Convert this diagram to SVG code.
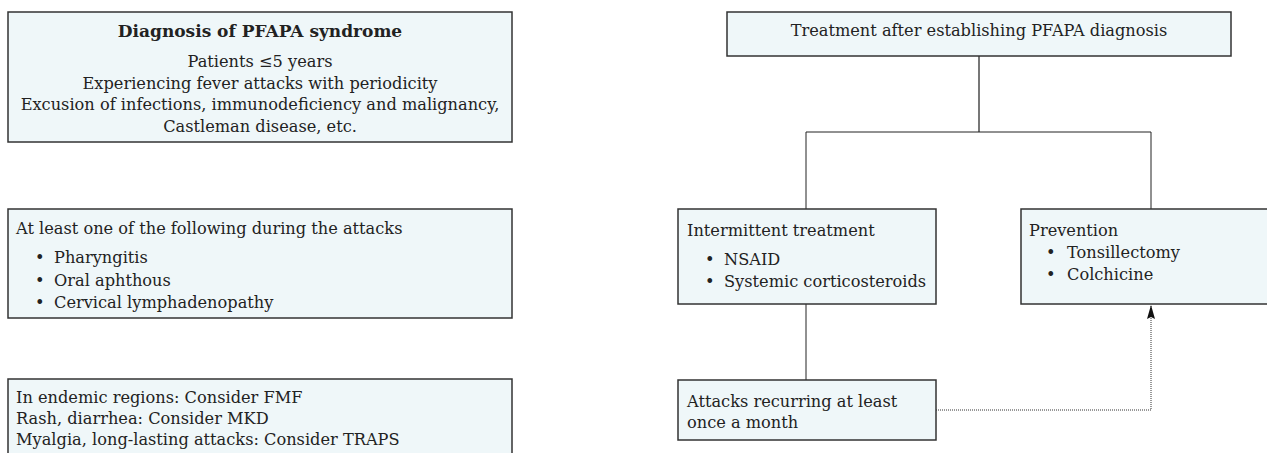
<svg xmlns="http://www.w3.org/2000/svg" width="1267" height="453" viewBox="0 0 1267 453">
<defs>
<style>
.box{fill:#eff7f9;stroke:#333;stroke-width:1.5}
text{font-family:"DejaVu Serif","Liberation Serif",serif;font-size:16.2px;fill:#222}
.b{font-weight:bold;font-size:17px}
.c{text-anchor:middle}
.ln{fill:none;stroke:#222;stroke-width:1}
</style>
<marker id="ah" viewBox="0 0 14 10" refX="14" refY="5" markerWidth="14" markerHeight="10" markerUnits="userSpaceOnUse" orient="auto">
<path d="M0,1 L14,5 L0,9 L2,5 Z" fill="#111"/>
</marker>
</defs>
<rect width="1267" height="453" fill="#fff"/>
<g id="connectors">
<line x1="979" y1="56" x2="979" y2="132" stroke="#777" stroke-width="2"/>
<polyline class="ln" points="806,209 806,132 1151,132 1151,209"/>
<line class="ln" x1="806" y1="304" x2="806" y2="380"/>
<polyline points="936,410 1151,410 1151,305" fill="none" stroke="#333" stroke-width="1" stroke-dasharray="1,1" marker-end="url(#ah)"/>
</g>
<g id="diagnosis">
<rect class="box" x="8" y="12" width="504" height="130"/>
<text class="b c" x="260" y="37">Diagnosis of PFAPA syndrome</text>
<text class="c" x="260" y="67">Patients ≤5 years</text>
<text class="c" x="260" y="89">Experiencing fever attacks with periodicity</text>
<text class="c" x="260" y="110">Excusion of infections, immunodeficiency and malignancy,</text>
<text class="c" x="260" y="132">Castleman disease, etc.</text>
</g>
<g id="criteria">
<rect class="box" x="8" y="209" width="504" height="109"/>
<text x="16" y="234">At least one of the following during the attacks</text>
<text x="35" y="263">•</text><text x="54" y="263">Pharyngitis</text>
<text x="35" y="286">•</text><text x="54" y="286">Oral aphthous</text>
<text x="35" y="308">•</text><text x="54" y="308">Cervical lymphadenopathy</text>
</g>
<g id="differential">
<rect class="box" x="8" y="379" width="504" height="90"/>
<text x="16" y="403">In endemic regions: Consider FMF</text>
<text x="16" y="424">Rash, diarrhea: Consider MKD</text>
<text x="16" y="445">Myalgia, long-lasting attacks: Consider TRAPS</text>
</g>
<g id="treatment">
<rect class="box" x="727" y="12" width="504" height="44"/>
<text class="c" x="979" y="36">Treatment after establishing PFAPA diagnosis</text>
</g>
<g id="intermittent">
<rect class="box" x="678" y="209" width="258" height="95"/>
<text x="687" y="236">Intermittent treatment</text>
<text x="705" y="265">•</text><text x="724" y="265">NSAID</text>
<text x="705" y="287">•</text><text x="724" y="287">Systemic corticosteroids</text>
</g>
<g id="prevention">
<rect class="box" x="1021" y="209" width="260" height="95"/>
<text x="1029" y="236">Prevention</text>
<text x="1046" y="258">•</text><text x="1067" y="258">Tonsillectomy</text>
<text x="1046" y="280">•</text><text x="1067" y="280">Colchicine</text>
</g>
<g id="attacks">
<rect class="box" x="678" y="380" width="258" height="60"/>
<text x="687" y="407">Attacks recurring at least</text>
<text x="687" y="428">once a month</text>
</g>
</svg>
